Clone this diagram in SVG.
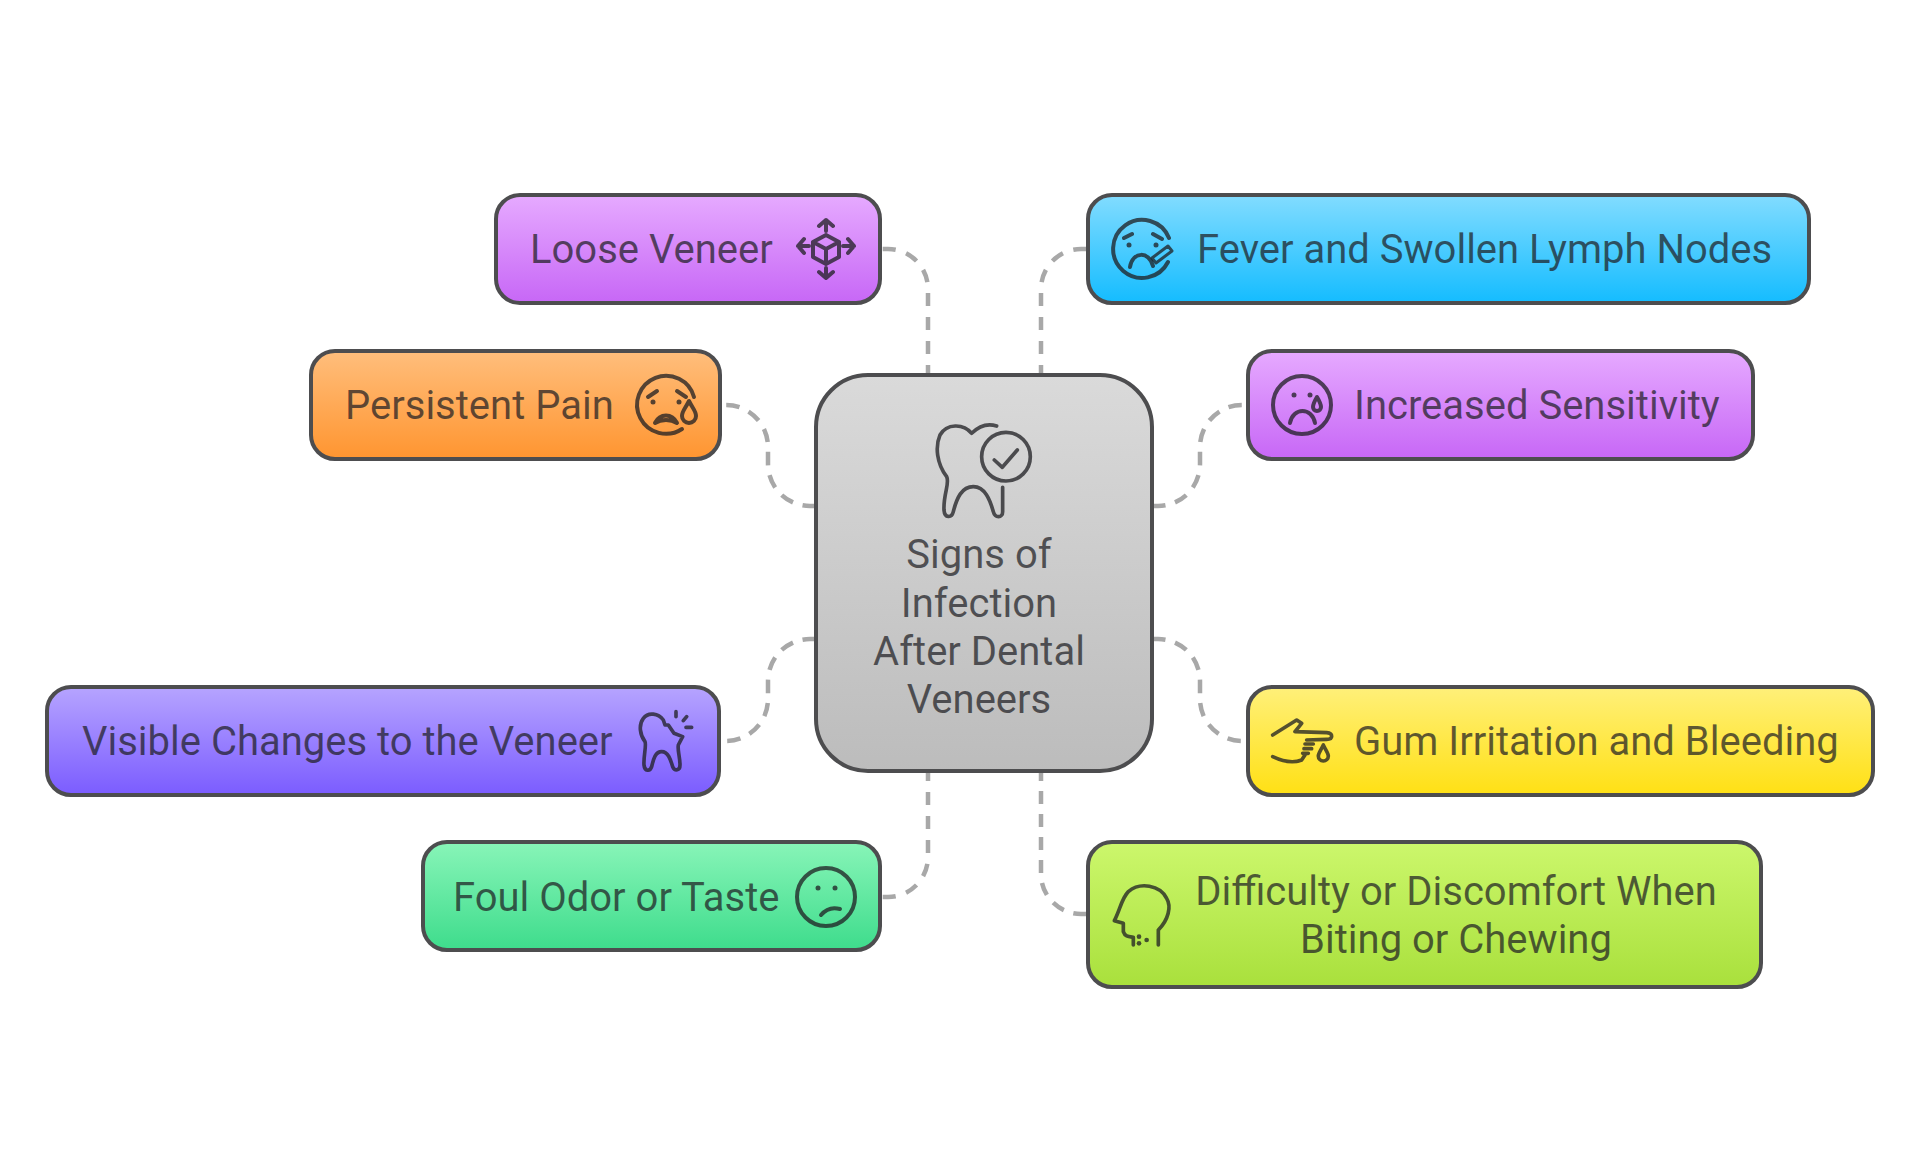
<svg xmlns="http://www.w3.org/2000/svg" width="1920" height="1154" viewBox="0 0 1920 1154">
<style>
.box{stroke:#4d4d4f;stroke-width:4}
.t{font-family:Roboto,"Liberation Sans",sans-serif;font-size:40px;fill:#1f1f24;fill-opacity:.72}
.m{text-anchor:middle}
.ic{fill:none;stroke:#1f1f24;stroke-opacity:.76;stroke-width:4;stroke-linecap:round;stroke-linejoin:round}
.d{fill:#1f1f24;fill-opacity:.76;stroke:none}
.c{fill:none;stroke:#a8a8a8;stroke-width:4.5;stroke-dasharray:13 10}
.s{stroke-dasharray:13.5 10}
.v{stroke-dasharray:13 11}
</style>
<defs>
<linearGradient id="gp" x1="0" y1="0" x2="0" y2="1"><stop offset="0" stop-color="#e6aaff"/><stop offset="1" stop-color="#c767f6"/></linearGradient>
<linearGradient id="go" x1="0" y1="0" x2="0" y2="1"><stop offset="0" stop-color="#ffbe7c"/><stop offset="1" stop-color="#ff9530"/></linearGradient>
<linearGradient id="gb" x1="0" y1="0" x2="0" y2="1"><stop offset="0" stop-color="#82dcff"/><stop offset="1" stop-color="#14bcff"/></linearGradient>
<linearGradient id="gv" x1="0" y1="0" x2="0" y2="1"><stop offset="0" stop-color="#b6a4ff"/><stop offset="1" stop-color="#7b5cff"/></linearGradient>
<linearGradient id="gy" x1="0" y1="0" x2="0" y2="1"><stop offset="0" stop-color="#fff07a"/><stop offset="1" stop-color="#ffe014"/></linearGradient>
<linearGradient id="gg" x1="0" y1="0" x2="0" y2="1"><stop offset="0" stop-color="#88f5b8"/><stop offset="1" stop-color="#3edc8c"/></linearGradient>
<linearGradient id="gl" x1="0" y1="0" x2="0" y2="1"><stop offset="0" stop-color="#ccf76c"/><stop offset="1" stop-color="#a9e03c"/></linearGradient>
<linearGradient id="gc" x1="0" y1="0" x2="0" y2="1"><stop offset="0" stop-color="#dadada"/><stop offset="1" stop-color="#bcbcbc"/></linearGradient>
</defs>
<rect width="1920" height="1154" fill="#fff"/>
<g id="connectors">
<path class="c v" d="M928 378V289a40 40 0 0 0 -40 -40h-6"/>
<path class="c v" d="M1041 378V289a40 40 0 0 1 40 -40h7"/>
<path class="c s" d="M816 506h-6a42 42 0 0 1 -42 -42V447a42 42 0 0 0 -42 -42h-6"/>
<path class="c s" d="M1152 506h6a42 42 0 0 0 42 -42V447a42 42 0 0 1 42 -42h6"/>
<path class="c s" d="M816 639h-6a42 42 0 0 0 -42 42V699a42 42 0 0 1 -42 42h-6"/>
<path class="c s" d="M1152 639h6a42 42 0 0 1 42 42V699a42 42 0 0 0 42 42h6"/>
<path class="c v" d="M928 768V857a40 40 0 0 1 -40 40h-6"/>
<path class="c" d="M1041 768V874a40 40 0 0 0 40 40h7"/>
</g>
<g id="center">
<rect class="box" x="816" y="375" width="336" height="396" rx="52" fill="url(#gc)"/>
<g class="ic" transform="translate(800 370) scale(.3333)" style="stroke-width:11"><path d="M590 168C565 160 540 165 515 190C490 160 440 160 420 195C405 230 410 280 440 320C450 340 430 370 432 420C434 445 455 445 460 425C470 385 485 350 520 350C555 350 570 390 580 425C585 445 608 445 608 425L608 352"/><circle cx="618" cy="260" r="73"/><path d="M583 270L607 292L652 240"/></g>
<text class="t m" x="979" y="568">Signs of</text>
<text class="t m" x="979" y="617">Infection</text>
<text class="t m" x="979" y="665">After Dental</text>
<text class="t m" x="979" y="713">Veneers</text>
</g>
<g id="loose">
<rect class="box" x="496" y="195" width="384" height="108" rx="24" fill="url(#gp)"/>
<text class="t" x="530" y="263">Loose Veneer</text>
<g class="ic" transform="translate(826 249)"><path d="M0 -14L13 -7V8L0 15L-13 8V-7ZM-13 -7L0 0L13 -7M0 0V15M0 -29V-18M-7 -23L0 -29L7 -23M0 29V19M-7 23L0 29L7 23M-28 -3H-17M-22 -10L-28 -3L-22 4M28 -3H17M22 -10L28 -3L22 4"/></g>
</g>
<g id="persistent">
<rect class="box" x="311" y="351" width="409" height="108" rx="24" fill="url(#go)"/>
<text class="t" x="345" y="419">Persistent Pain</text>
<g class="ic" transform="translate(666 405)"><path d="M28 -8A29 29 0 1 0 16 24"/><path d="M-18 -8L-9 -14M20 -8L11 -14M-11 18C-6 8 6 8 11 18C5 14 -5 14 -11 18Z"/><path d="M23 -4C19 4 16 6 16 11A7 7 0 0 0 30 11C30 6 27 4 23 -4Z"/><circle class="d" cx="-13" cy="-3" r="2.5"/><circle class="d" cx="13" cy="-3" r="2.5"/></g>
</g>
<g id="fever">
<rect class="box" x="1088" y="195" width="721" height="108" rx="24" fill="url(#gb)"/>
<text class="t" x="1197" y="263">Fever and Swollen Lymph Nodes</text>
<g class="ic" transform="translate(1142 249)"><path d="M27 -11A29 29 0 1 0 26 13"/><path d="M-18 -11L-10 -15M20 -10L11 -15M-12 18C-9 2 7 2 11 17"/><path d="M10 9L26 -3L30 2L14 14Z" style="stroke-width:3"/><circle class="d" cx="-13" cy="-4" r="2.5"/><circle class="d" cx="14" cy="-4" r="2.5"/></g>
</g>
<g id="sensitivity">
<rect class="box" x="1248" y="351" width="505" height="108" rx="24" fill="url(#gp)"/>
<text class="t" x="1354" y="419">Increased Sensitivity</text>
<g class="ic" transform="translate(1302 405)"><circle r="29"/><path d="M-12 18C-9 2 10 2 13 18"/><path d="M15 -8C12 -3 11 -1 11 2A4 4 0 0 0 19 2C19 -1 18 -3 15 -8Z"/><circle class="d" cx="-8" cy="-10" r="2.5"/><circle class="d" cx="8" cy="-10" r="2.5"/></g>
</g>
<g id="visible">
<rect class="box" x="47" y="687" width="672" height="108" rx="24" fill="url(#gv)"/>
<text class="t" x="82" y="755">Visible Changes to the Veneer</text>
<g class="ic" transform="translate(600 670) scale(.3333)" style="stroke-width:11"><path d="M190 150C175 130 145 125 130 145C115 165 120 195 135 215C140 225 130 260 132 285C134 305 150 305 155 290C160 270 165 245 185 245C205 245 212 270 218 290C225 305 240 302 240 285C240 260 232 240 235 225L248 200L222 190L205 165L195 165ZM228 125V140M250 152L260 140M258 172H275"/></g>
</g>
<g id="gum">
<rect class="box" x="1248" y="687" width="625" height="108" rx="24" fill="url(#gy)"/>
<text class="t" x="1354" y="755">Gum Irritation and Bleeding</text>
<g class="ic" transform="translate(1230 680) scale(.3333)" style="stroke-width:11"><path d="M128 165L200 120L215 130L195 155L290 158C310 160 310 178 290 178L230 180M225 192H250M222 206H245M218 220H235M128 230C160 245 190 250 215 240L225 225M280 195C272 212 265 220 265 228A14 14 0 0 0 295 228C295 220 288 212 280 195Z"/></g>
</g>
<g id="foul">
<rect class="box" x="423" y="842" width="457" height="108" rx="24" fill="url(#gg)"/>
<text class="t" x="453" y="911">Foul Odor or Taste</text>
<g class="ic" transform="translate(826 897)"><circle r="29"/><path d="M-5 18C0 12 7 10 14 12"/><circle class="d" cx="-8" cy="-9" r="2.5"/><circle class="d" cx="9" cy="-9" r="2.5"/></g>
</g>
<g id="difficulty">
<rect class="box" x="1088" y="842" width="673" height="145" rx="24" fill="url(#gl)"/>
<text class="t m" x="1456" y="905">Difficulty or Discomfort When</text>
<text class="t m" x="1456" y="953">Biting or Chewing</text>
<g class="ic" transform="translate(1060 760) scale(.3333)" style="stroke-width:11"><path d="M295 555L295 510C325 480 335 440 320 415C300 375 240 365 205 395C185 415 180 450 163 482L190 490L190 515C195 530 205 530 220 532L220 555"/><circle class="d" cx="237" cy="530" r="7"/><circle class="d" cx="237" cy="550" r="7"/><circle class="d" cx="260" cy="540" r="7"/></g>
</g>
</svg>
